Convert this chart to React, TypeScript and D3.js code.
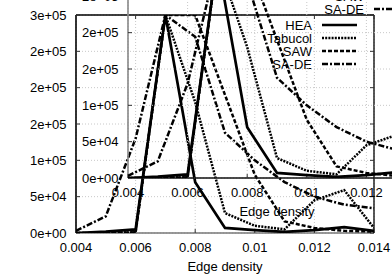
import React, { useRef, useEffect } from 'react'
import { select, scaleLinear, line } from 'd3'

const edgeDensity = [0.004, 0.005, 0.006, 0.007, 0.008, 0.009, 0.01, 0.011, 0.012, 0.013, 0.014]
const hea = [0, 2e3, 5e3, 3e5, 7e4, 7e3, 4e3, 1.5e3, 4e3, 8e3, 3e3]
const tabucol = [0, 0, 1e3, 3e5, 1.8e5, 2.75e4, 1e4, 5e3, 4.5e4, 5.9e4, 7e3]
const saw = [0, 0, 1e3, 3e5, 3e5, 1.9e5, 8e4, 1.6e4, 7e3, 3e3, 2e3]
const sade = [3e3, 2.3e4, 1.3e5, 3e5, 2.7e5, 1.38e5, 1e5, 7e4, 5e4, 3.9e4, 3.4e4]
const seriesNames = ['HEA', 'Tabucol', 'SAW', 'SA-DE']
const xTicks = [0.004, 0.006, 0.008, 0.01, 0.012, 0.014]
const xTickLabels = ['0.004', '0.006', '0.008', '0.01', '0.012', '0.014']
const yTicks = [0, 5e4, 1e5, 1.5e5, 2e5, 2.5e5, 3e5]
const yTickLabels = ['0e+00', '5e+04', '1e+05', '2e+05', '2e+05', '2e+05', '3e+05']

const dashes = [null, '2,1.2', '4,2', '6,2,2,2']

const App = () => {
    const ref = useRef<SVGSVGElement>(null)

    useEffect(() => {
        const svg = select(ref.current)
        svg.selectAll('*').remove()
        const font = '"Liberation Sans", Arial, sans-serif'
        const series = [hea, tabucol, saw, sade]

        // the same plot is drawn twice, the second one shifted up and right
        const panels = [
            { id: 'outer', left: 76, top: 15, sides: ['#000', '#000', '#777', '#000'] },
            { id: 'inner', left: 128, top: -40, sides: ['#555', '#555', '#111', '#888'] },
        ]

        panels.forEach(p => {
            const w = 298
            const h = 218
            const x = scaleLinear().domain([0.004, 0.014]).range([p.left, p.left + w])
            const y = scaleLinear().domain([0, 3e5]).range([p.top + h, p.top])
            const g = svg.append('g')

            svg.append('clipPath').attr('id', 'clip-' + p.id)
                .append('rect').attr('x', p.left).attr('y', p.top).attr('width', w).attr('height', h)

            // grid
            g.selectAll('.gx').data(xTicks).join('line')
                .attr('x1', d => x(d)).attr('x2', d => x(d))
                .attr('y1', p.top).attr('y2', p.top + h)
                .attr('stroke', '#c8c8c8').attr('stroke-dasharray', '1,2')
            g.selectAll('.gy').data(yTicks).join('line')
                .attr('x1', p.left).attr('x2', p.left + w)
                .attr('y1', d => y(d)).attr('y2', d => y(d))
                .attr('stroke', '#c8c8c8').attr('stroke-dasharray', '1,2')

            // border: top, right, bottom, left
            const [t, r, b, l] = p.sides
            g.append('line').attr('x1', p.left).attr('x2', p.left + w).attr('y1', p.top).attr('y2', p.top)
                .attr('stroke', t).attr('stroke-width', 1.3)
            g.append('line').attr('x1', p.left + w).attr('x2', p.left + w).attr('y1', p.top).attr('y2', p.top + h)
                .attr('stroke', r).attr('stroke-width', 1.3)
            g.append('line').attr('x1', p.left).attr('x2', p.left + w).attr('y1', p.top + h).attr('y2', p.top + h)
                .attr('stroke', b).attr('stroke-width', 1.3)
            g.append('line').attr('x1', p.left).attr('x2', p.left).attr('y1', p.top).attr('y2', p.top + h)
                .attr('stroke', l).attr('stroke-width', 1.6)

            // ticks
            yTicks.forEach(v => {
                g.append('line').attr('x1', p.left).attr('x2', p.left + 4)
                    .attr('y1', y(v)).attr('y2', y(v)).attr('stroke', '#333')
                g.append('line').attr('x1', p.left + w - 4).attr('x2', p.left + w)
                    .attr('y1', y(v)).attr('y2', y(v)).attr('stroke', '#333')
            })
            xTicks.forEach(v => {
                g.append('line').attr('x1', x(v)).attr('x2', x(v))
                    .attr('y1', p.top + h).attr('y2', p.top + h - 4).attr('stroke', '#333')
                g.append('line').attr('x1', x(v)).attr('x2', x(v))
                    .attr('y1', p.top).attr('y2', p.top + 4).attr('stroke', '#333')
            })

            // tick labels
            g.selectAll('.yl').data(yTicks).join('text')
                .attr('x', p.left - 9.5).attr('y', d => y(d)).attr('dy', '0.35em')
                .attr('text-anchor', 'end').attr('font-family', font).attr('font-size', 13)
                .text((d, i) => yTickLabels[i])
            g.selectAll('.xl').data(xTicks).join('text')
                .attr('x', d => x(d)).attr('y', p.top + h + 14).attr('dy', '0.35em')
                .attr('text-anchor', 'middle').attr('font-family', font).attr('font-size', 13)
                .text((d, i) => xTickLabels[i])
            g.append('text')
                .attr('x', p.left + w / 2).attr('y', p.top + h + 33).attr('dy', '0.35em')
                .attr('text-anchor', 'middle').attr('font-family', font).attr('font-size', 13)
                .text('Edge density')

            // series
            const lineGen = line<number>().x((d, i) => x(edgeDensity[i])).y(d => y(d))
            const lines = g.append('g').attr('clip-path', `url(#clip-${p.id})`)
            series.forEach((s, k) => {
                lines.append('path').datum(s)
                    .attr('d', lineGen)
                    .attr('fill', 'none').attr('stroke', '#000')
                    .attr('stroke-width', k === 0 ? 2.7 : 2.5)
                    .attr('stroke-linejoin', 'miter')
                    .attr('stroke-dasharray', dashes[k])
            })

            // legend
            seriesNames.forEach((name, k) => {
                const ly = p.top + 10 + k * 13
                g.append('text')
                    .attr('x', p.left + 236).attr('y', ly).attr('dy', '0.35em')
                    .attr('text-anchor', 'end').attr('font-family', font).attr('font-size', 13)
                    .text(name)
                g.append('line')
                    .attr('x1', p.left + 246).attr('x2', p.left + 281)
                    .attr('y1', ly).attr('y2', ly)
                    .attr('stroke', '#000').attr('stroke-width', k === 0 ? 2.7 : 2.5)
                    .attr('stroke-dasharray', dashes[k])
            })
        })
    }, [])

    return (
        <svg ref={ref} width={392} height={275}
            style={{ position: 'absolute', left: 0, top: 0, background: '#fff' }} />
    )
}

export default App
